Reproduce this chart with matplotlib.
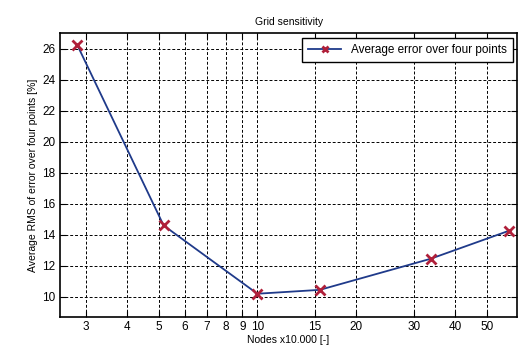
import matplotlib.pyplot as plt
from matplotlib.ticker import FixedLocator, NullLocator, FixedFormatter

nodes = [2.83, 5.18, 10.0, 15.5, 33.7, 58.3]
avg_error = [26.2, 14.6, 10.2, 10.45, 12.45, 14.25]

x_ticks = [3, 4, 5, 6, 7, 8, 9, 10, 15, 20, 30, 40, 50]
x_labels = ['3', '4', '5', '6', '7', '8', '9', '10', '15', '20', '30', '40', '50']
y_ticks = [10, 12, 14, 16, 18, 20, 22, 24, 26]

plt.rcParams['font.family'] = 'Liberation Sans'
fig = plt.figure(figsize=(5.2, 3.55), dpi=100)
ax = fig.add_axes([0.115, 0.107, 0.88, 0.80])

ax.plot(nodes, avg_error, color='#1f3a8a', linewidth=1.3,
        marker='x', markersize=7, markeredgecolor='#b0203a', markeredgewidth=2,
        label='Average error over four points')

ax.set_xscale('log')
ax.set_xlim(2.5, 62)
ax.set_ylim(8.7, 27.0)
ax.xaxis.set_major_locator(FixedLocator(x_ticks))
ax.xaxis.set_major_formatter(FixedFormatter(x_labels))
ax.xaxis.set_minor_locator(NullLocator())
ax.set_yticks(y_ticks)
ax.tick_params(labelsize=8.5, direction='in', length=4, top=True, right=True, pad=3)

ax.grid(True, color='black', linestyle=(0, (3, 2)), linewidth=0.7)
for s in ax.spines.values():
    s.set_linewidth(1.2)

ax.set_title('Grid sensitivity', fontsize=7.5)
ax.set_xlabel('Nodes x10.000 [-]', fontsize=7.5, labelpad=1)
ax.set_ylabel('Average RMS of error over four points [%]', fontsize=7.5, labelpad=3)

leg = ax.legend(loc='upper right', fontsize=8.5, fancybox=False, framealpha=1,
                edgecolor='black', borderaxespad=0.4, handlelength=2.8,
                borderpad=0.5, markerscale=0.7)
leg.get_frame().set_linewidth(1.0)

fig.savefig('out.png', dpi=100)
